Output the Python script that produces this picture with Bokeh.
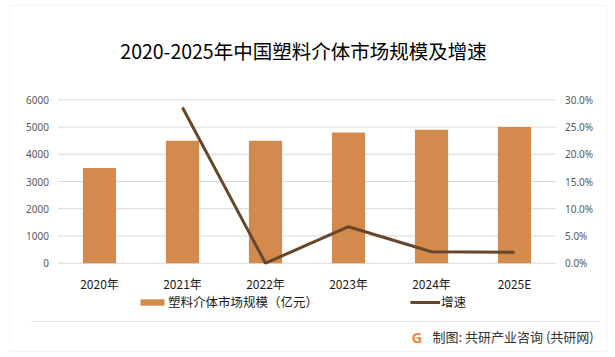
from bokeh.plotting import figure
from bokeh.models import (ColumnDataSource, Range1d, LinearAxis, FixedTicker,
                          NumeralTickFormatter, Legend, LegendItem, Label, BoxAnnotation)
from bokeh.embed import file_html
from bokeh.resources import INLINE

# ---- data ----
years = ["2020年", "2021年", "2022年", "2023年", "2024年", "2025E"]
market_size = [3500, 4500, 4500, 4800, 4900, 5000]          # 亿元
growth_years = ["2021年", "2022年", "2023年", "2024年", "2025E"]
growth_rate = [0.286, 0.0, 0.067, 0.021, 0.020]
left_ticks = [0, 1000, 2000, 3000, 4000, 5000, 6000]
right_ticks = [0.0, 0.05, 0.10, 0.15, 0.20, 0.25, 0.30]

title_text = "2020-2025年中国塑料介体市场规模及增速"
bar_label = "塑料介体市场规模（亿元）"
line_label = "增速"
source_text = "制图: 共研产业咨询 (共研网)"

BAR = "#D38B4D"
LINE = "#66472B"
CJK = "Noto Sans CJK SC"

W, H = 612, 356
# plot area in canvas pixels: x 57.5..555.5, y 99.3 (top value) .. 262.7 (zero)
PX_L, PX_R, PY_T, PY_0 = 57.5, 555.5, 99.3, 262.7
n = len(years)
cat_w = (PX_R - PX_L) / n
y_top, pct_top = 6000, 0.30
ypp = y_top / (PY_0 - PY_T)
ppp = pct_top / (PY_0 - PY_T)

p = figure(width=W, height=H, output_backend="svg", toolbar_location=None,
           x_range=Range1d(-PX_L / cat_w, (W - PX_L) / cat_w),
           y_range=Range1d(-(H - PY_0) * ypp, PY_0 * ypp),
           min_border=0)
p.title.text = ""
p.outline_line_color = None
p.background_fill_color = "white"
p.border_fill_color = "white"
p.extra_y_ranges = {"pct": Range1d(-(H - PY_0) * ppp, PY_0 * ppp)}
p.xgrid.visible = False
p.ygrid.visible = False

xpos = [i + 0.5 for i in range(n)]
gxpos = [years.index(g) + 0.5 for g in growth_years]

# gridlines from the tick values
grid_src = ColumnDataSource(dict(y=left_ticks, x0=[0] * len(left_ticks), x1=[n] * len(left_ticks)))
p.segment(x0="x0", x1="x1", y0="y", y1="y", source=grid_src, line_color="#d9d9d9", line_width=1)

bar_src = ColumnDataSource(dict(x=xpos, top=market_size))
line_src = ColumnDataSource(dict(x=gxpos, y=growth_rate))
bars = p.vbar(x="x", top="top", width=0.4, source=bar_src, fill_color=BAR, line_color=None)
line = p.line(x="x", y="y", source=line_src, y_range_name="pct", line_color=LINE, line_width=3)

# axes (drawn inside the canvas at fixed locations)
yl = p.yaxis[0]
yl.fixed_location = 0
yl.ticker = FixedTicker(ticks=left_ticks)
yl.axis_line_color = None
yl.major_tick_line_color = None
yl.minor_tick_line_color = None
yl.major_tick_out = 0
yl.major_label_standoff = 9
yl.major_label_text_font = "Noto Sans"
yl.major_label_text_font_size = "10px"
yl.major_label_text_color = "#595959"

yr = LinearAxis(y_range_name="pct", ticker=FixedTicker(ticks=right_ticks),
                formatter=NumeralTickFormatter(format="0.0%"), fixed_location=n)
yr.axis_line_color = None
yr.major_tick_line_color = None
yr.minor_tick_line_color = None
yr.major_tick_out = 0
yr.major_label_standoff = 9
yr.major_label_text_font = "Noto Sans"
yr.major_label_text_font_size = "10px"
yr.major_label_text_color = "#595959"
p.add_layout(yr, "right")

xa = p.xaxis[0]
xa.fixed_location = 0
xa.ticker = FixedTicker(ticks=xpos)
xa.major_label_overrides = {x: lab for x, lab in zip(xpos, years)}
xa.axis_line_color = None
xa.major_tick_line_color = None
xa.minor_tick_line_color = None
xa.major_tick_out = 0
xa.major_label_standoff = 12
xa.major_label_text_font = CJK
xa.major_label_text_font_size = "12px"
xa.major_label_text_color = "#1a1a1a"

# legend
leg = Legend(items=[LegendItem(label=bar_label, renderers=[bars]),
                    LegendItem(label=line_label, renderers=[line])],
             location=(137, H - 311), orientation="horizontal",
             glyph_width=30, glyph_height=8, label_height=16, label_standoff=1,
             spacing=92, padding=0, margin=0, border_line_color=None, background_fill_alpha=0,
             label_text_font=CJK, label_text_font_size="12.5px", label_text_color="#1a1a1a")
p.add_layout(leg, "center")

def screen_label(x, py, text, **kw):
    p.add_layout(Label(x=x, y=H - py, x_units="screen", y_units="screen", text=text,
                       text_baseline="middle", **kw))

screen_label(303, 50, title_text, text_align="center", text_font=CJK,
             text_font_size="19.5px", text_color="#000000")

def screen_box(l, r, t, b, **kw):
    p.add_layout(BoxAnnotation(left=l, right=r, top=H - t, bottom=H - b,
                               left_units="screen", right_units="screen",
                               top_units="screen", bottom_units="screen", **kw))

screen_box(9.5, 606.5, 4.5, 351, fill_alpha=0, line_color="#d9d9d9", line_width=1)
screen_box(31, 600, 320.5, 321.5, fill_color="#e6e6e6", fill_alpha=1, line_color=None)

screen_label(416.5, 336, "G", text_align="center", text_font="Noto Sans",
             text_font_style="bold", text_font_size="15px", text_color="#F0883A")
screen_label(432, 336, source_text, text_align="left", text_font=CJK,
             text_font_size="13px", text_color="#333333")

open("out.html", "w").write(file_html(p, INLINE))
